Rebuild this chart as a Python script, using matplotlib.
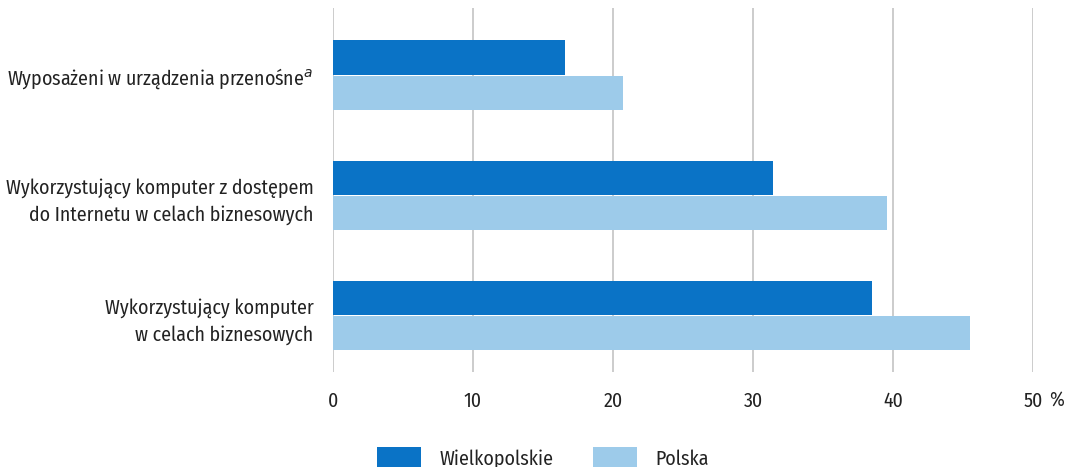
import matplotlib
matplotlib.use("Agg")
import matplotlib.pyplot as plt
from matplotlib import font_manager
import numpy as np

nazwy = {f.name for f in font_manager.fontManager.ttflist}
if 'Fira Sans Condensed' in nazwy:
    plt.rcParams['font.family'] = ['Fira Sans Condensed', 'DejaVu Sans']
    rozmiar = 14.3
else:
    plt.rcParams['font.family'] = ['DejaVu Sans']
    plt.rcParams['font.stretch'] = 'condensed'
    rozmiar = 13

kategorie = [
    'Wyposażeni w urządzenia przenośne$^{a}$',
    'Wykorzystujący komputer z dostępem\ndo Internetu w celach biznesowych',
    'Wykorzystujący komputer\nw celach biznesowych',
]
wielkopolskie = [16.6, 31.4, 38.5]
polska = [20.7, 39.6, 45.5]
ticki = [0, 10, 20, 30, 40, 50]

kolor_ciemny = '#0a73c6'
kolor_jasny = '#9dcbea'

fig = plt.figure(figsize=(10.75, 4.67), dpi=100)
ax = fig.add_axes([333 / 1075, 1 - 372 / 467, 700 / 1075, 364 / 467])

y = np.arange(len(kategorie))
h = 0.285
ax.barh(y - h / 2 - 0.005, wielkopolskie, height=h, color=kolor_ciemny, label='Wielkopolskie', zorder=3)
ax.barh(y + h / 2 + 0.005, polska, height=h, color=kolor_jasny, label='Polska', zorder=3)

for t in ticki:
    ax.axvline(t, color='#c4c4c4', lw=1.2, zorder=1)

ax.set_xlim(0, 50)
ax.set_ylim(2.47, -0.56)
ax.set_xticks(ticki)
ax.set_xticklabels([str(t) for t in ticki], fontsize=rozmiar, color='#222222')
ax.set_yticks(y)
ax.set_yticklabels(kategorie, fontsize=rozmiar, color='#222222', linespacing=1.5)
ax.tick_params(length=0, pad=14)
ax.tick_params(axis='x', pad=14)
for s in ax.spines.values():
    s.set_visible(False)

fig.text(1057 / 1075, 1 - 400 / 467, '%', fontsize=rozmiar, color='#222222', ha='center', va='center')

ax.legend(loc='upper left', bbox_to_anchor=(36 / 700, -0.185), ncol=2, frameon=False,
          fontsize=rozmiar, handlelength=2.2, handleheight=1.3, columnspacing=2.0,
          handletextpad=0.95, labelcolor='#222222', borderaxespad=0)

fig.savefig('out.png', dpi=100)
